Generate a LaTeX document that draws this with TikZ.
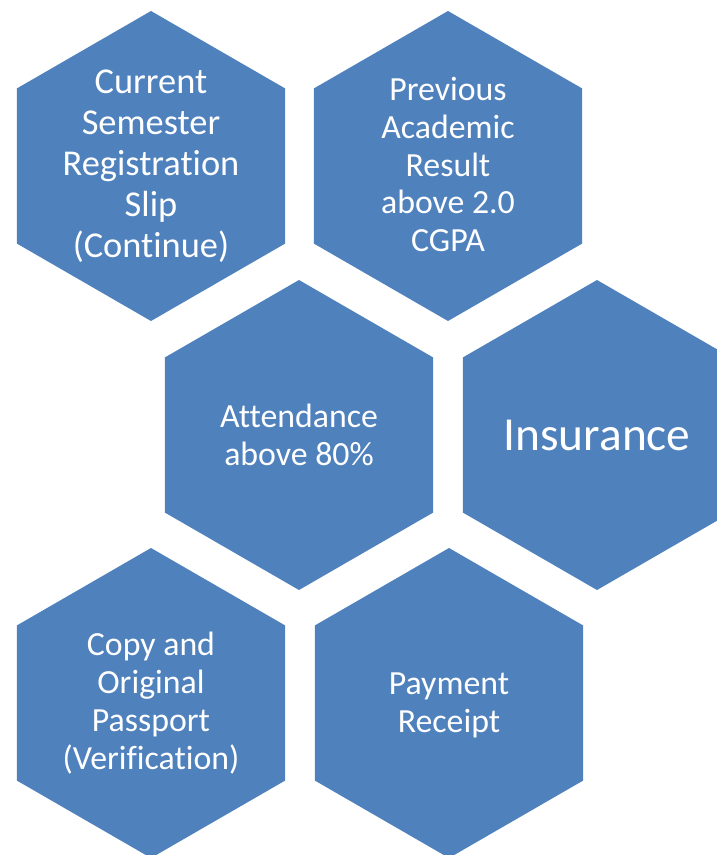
\documentclass[tikz,border=0pt]{standalone}
\usepackage{fontspec}
\setmainfont{Carlito}[Ligatures=NoCommon]
\definecolor{hexblue}{HTML}{4F81BD}
\begin{document}
\begin{tikzpicture}[x=1pt,y=-1pt,
  hexfill/.style={fill=hexblue},
  hextext/.style={text=white,align=center,inner sep=0pt},
  bigtxt/.style={hextext,font=\fontsize{36.4}{41}\selectfont},
  midtxt/.style={hextext,font=\fontsize{33.8}{37.8}\selectfont},
  hugetxt/.style={hextext,font=\fontsize{47.4}{52}\selectfont}]
\useasboundingbox (0,0) rectangle (717,855);
\clip (0,0) rectangle (717,855);
\coordinate (c1) at (151,166);
\coordinate (c2) at (448,166);
\coordinate (c3) at (299,435);
\coordinate (c4) at (597,435);
\coordinate (c5) at (151,703);
\coordinate (c6) at (449,703);
\foreach \c in {c1,c2,c3,c4,c5,c6}{
  \fill[hexfill] (\c) +(90:155) -- +(150:155) -- +(210:155) -- +(270:155) -- +(330:155) -- +(30:155) -- cycle;
}
\node[bigtxt] (t1) at (c1) {Current\\Semester\\Registration\\Slip\\(Continue)};
\node[midtxt] (t2) at ([yshift=1.5]c2) {Previous\\Academic\\Result\\above 2.0\\CGPA};
\node[midtxt] (t3) at (c3) {Attendance\\above 80\%};
\node[hugetxt] (t4) at (c4) {Insurance};
\node[midtxt] (t5) at (c5) {Copy and\\Original\\Passport\\(Verification)};
\node[midtxt] (t6) at ([yshift=-2]c6) {Payment\\Receipt};
\end{tikzpicture}
\end{document}
